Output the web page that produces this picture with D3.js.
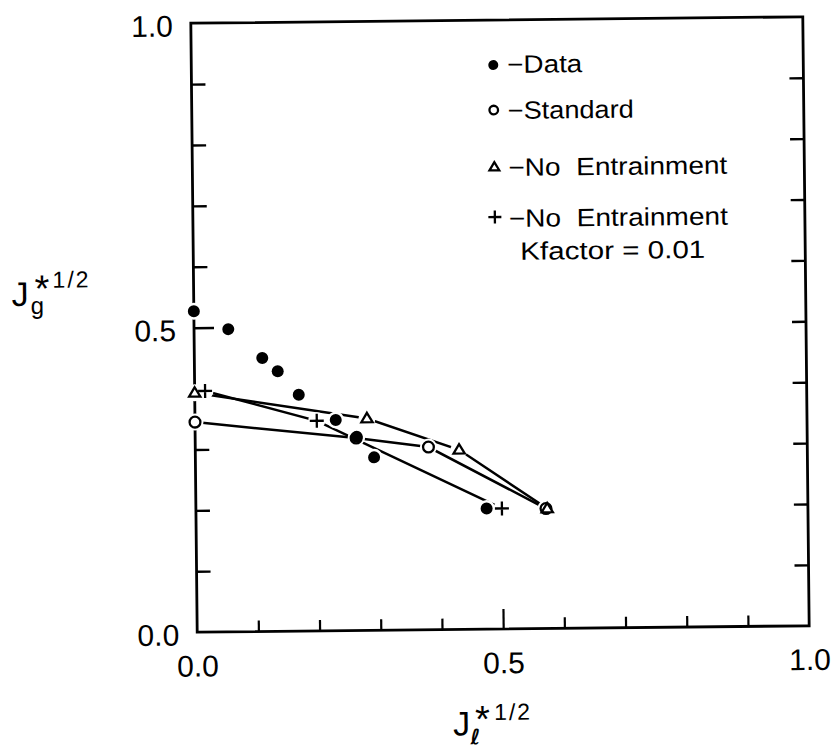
<!DOCTYPE html>
<html>
<head>
<meta charset="utf-8">
<script src="https://cdn.jsdelivr.net/npm/d3@7"></script>
<style>
  html, body { margin: 0; padding: 0; background: #fff; }
  svg { display: block; }
  text { font-family: "Liberation Sans", Arial, sans-serif; fill: #000; }
</style>
</head>
<body>
<svg id="chart" width="837" height="749"></svg>
<script>
// ---- data ----
const dataX = [0.0, 0.056, 0.111, 0.136, 0.170, 0.230, 0.264, 0.292, 0.475];
const dataY = [0.527, 0.497, 0.449, 0.427, 0.388, 0.346, 0.318, 0.284, 0.198];

const standardX = [0.0, 0.263, 0.381, 0.572];
const standardY = [0.345, 0.316, 0.300, 0.197];

const noEntX = [0.0, 0.281, 0.431, 0.574];
const noEntY = [0.393, 0.348, 0.295, 0.197];

const kfactorX = [0.017, 0.199, 0.500];
const kfactorY = [0.396, 0.345, 0.198];

const tickValues = [0, 0.1, 0.2, 0.3, 0.4, 0.5, 0.6, 0.7, 0.8, 0.9, 1.0];
const tickLabels = {"0": "0.0", "0.5": "0.5", "1": "1.0"};

const legendLabels = ["\u2212Data", "\u2212Standard", "\u2212No\u00a0\u00a0Entrainment", "\u2212No\u00a0\u00a0Entrainment"];
const legendExtra = "Kfactor = 0.01";

// ---- layout ----
const L = 194, R = 806, T = 20, B = 629;
const svg = d3.select("#chart");
const g = svg.append("g").attr("transform", "rotate(-0.6, 500, 325)");

const x = d3.scaleLinear().domain([0, 1]).range([L, R]);
const y = d3.scaleLinear().domain([0, 1]).range([B, T]);

const inner = tickValues.filter(v => v > 0 && v < 1);

// left axis (inward ticks)
const leftAxis = d3.axisLeft(y).tickValues(tickValues).tickSize(-14).tickPadding(18)
  .tickFormat(d => tickLabels[String(+d.toFixed(1))] || "");
const gl = g.append("g").attr("transform", `translate(${L},0)`).call(leftAxis);
gl.select(".domain").remove();
gl.selectAll(".tick line").attr("stroke", "#000").attr("stroke-width", 2.4)
  .attr("x2", d => Math.abs(d - 0.5) < 1e-6 ? 20 : 14)
  .attr("display", d => (d <= 0 || d >= 1) ? "none" : null);
gl.selectAll(".tick text").attr("font-size", 30).attr("font-family", "Liberation Sans, Arial, sans-serif")
  .attr("dy", "0.42em");

// right axis (inward ticks, no labels)
const rightAxis = d3.axisRight(y).tickValues(inner).tickSize(-14).tickFormat("");
const gr = g.append("g").attr("transform", `translate(${R},0)`).call(rightAxis);
gr.select(".domain").remove();
gr.selectAll(".tick line").attr("stroke", "#000").attr("stroke-width", 2.4);

// bottom axis (inward ticks)
const bottomAxis = d3.axisBottom(x).tickValues(tickValues).tickSize(-12).tickPadding(23)
  .tickFormat(d => tickLabels[String(+d.toFixed(1))] || "");
const gb = g.append("g").attr("transform", `translate(0,${B})`).call(bottomAxis);
gb.select(".domain").remove();
gb.selectAll(".tick line").attr("stroke", "#000").attr("stroke-width", 2.2)
  .attr("y2", d => Math.abs(d - 0.5) < 1e-6 ? -20 : -11)
  .attr("display", d => (d <= 0 || d >= 1) ? "none" : null);
gb.selectAll(".tick text").attr("font-size", 30).attr("font-family", "Liberation Sans, Arial, sans-serif");

// frame
g.append("rect").attr("x", L).attr("y", T).attr("width", R - L).attr("height", B - T)
  .attr("fill", "none").attr("stroke", "#000").attr("stroke-width", 2.8);

// ---- series ----
const zip = (xs, ys) => xs.map((v, i) => [v, ys[i]]);
const dataPts = zip(dataX, dataY);
const stdPts = zip(standardX, standardY);
const nePts = zip(noEntX, noEntY);
const kfPts = zip(kfactorX, kfactorY);

const line = d3.line().x(d => x(d[0])).y(d => y(d[1]));
[stdPts, nePts, kfPts].forEach(pts => {
  g.append("path").attr("d", line(pts)).attr("fill", "none")
    .attr("stroke", "#000").attr("stroke-width", 2.5);
});

// white halos (gaps in lines around markers)
const allPts = [...stdPts, ...nePts, ...kfPts, ...dataPts];
g.append("g").selectAll("circle").data(allPts).join("circle")
  .attr("cx", d => x(d[0])).attr("cy", d => y(d[1])).attr("r", 8.5).attr("fill", "#fff");

const triPath = (cx, cy, s) => `M${cx},${cy - s * 0.75} L${cx + s * 0.75},${cy + s * 0.5} L${cx - s * 0.75},${cy + s * 0.5} Z`;
const plusPath = (cx, cy, s) => `M${cx - s},${cy} H${cx + s} M${cx},${cy - s} V${cy + s}`;

function drawCircle(sel, cx, cy, r) {
  sel.append("circle").attr("cx", cx).attr("cy", cy).attr("r", r)
    .attr("fill", "#fff").attr("stroke", "#000").attr("stroke-width", 2.3);
}
function drawTri(sel, cx, cy, s) {
  sel.append("path").attr("d", triPath(cx, cy, s)).attr("fill", "#fff")
    .attr("stroke", "#000").attr("stroke-width", 2.3).attr("stroke-linejoin", "miter");
}
function drawPlus(sel, cx, cy, s) {
  sel.append("path").attr("d", plusPath(cx, cy, s)).attr("fill", "none")
    .attr("stroke", "#000").attr("stroke-width", 2.3);
}
function drawDot(sel, cx, cy, r) {
  sel.append("circle").attr("cx", cx).attr("cy", cy).attr("r", r).attr("fill", "#000");
}

const mk = g.append("g");
stdPts.forEach(d => drawCircle(mk, x(d[0]), y(d[1]), 5.4));
nePts.forEach(d => drawTri(mk, x(d[0]), y(d[1]), 7.5));
kfPts.forEach(d => drawPlus(mk, x(d[0]), y(d[1]), 7));
dataPts.forEach(d => drawDot(mk, x(d[0]), y(d[1]), 6));

// ---- legend ----
const lg = g.append("g");
const legMarkX = 496, legTextX = 510;
const legRows = [65, 110, 166, 217];
const legBase = [73, 119, 176, 227];
const legLen = [75, 126, 219, 219];
drawDot(lg, legMarkX, legRows[0], 5);
drawCircle(lg, legMarkX, legRows[1], 4.3);
drawTri(lg, legMarkX, legRows[2] + 1, 6.5);
drawPlus(lg, legMarkX, legRows[3], 6.5);
legendLabels.forEach((t, i) => {
  lg.append("text").attr("x", legTextX).attr("y", legBase[i]).attr("font-size", 25)
    .attr("textLength", legLen[i]).attr("lengthAdjust", "spacingAndGlyphs").text(t);
});
lg.append("text").attr("x", 521).attr("y", 260).attr("font-size", 25)
  .attr("textLength", 185).attr("lengthAdjust", "spacingAndGlyphs").text(legendExtra);

// ---- axis titles (single text elements with tspans) ----
function title(xJ, yJ, sub, subFont, subFamily, subX, subY, starX, starY, fracX, fracY) {
  const t = g.append("text");
  t.append("tspan").attr("x", xJ).attr("y", yJ).attr("font-size", 34).text("J");
  const s = t.append("tspan").attr("x", subX).attr("y", subY).attr("font-size", subFont).text(sub);
  if (subFamily) s.attr("font-family", subFamily).attr("font-style", "italic").attr("font-weight", "bold");
  t.append("tspan").attr("x", starX).attr("y", starY).attr("font-size", 38).text("*");
  t.append("tspan").attr("x", fracX).attr("y", fracY).attr("font-size", 23)
    .attr("letter-spacing", 2).text("1/2");
}
title(12, 301, "g", 24, null, 31, 309, 35, 297, 53, 283);
title(449, 735, "\u2113", 21, "DejaVu Sans, sans-serif", 466, 744, 471, 732, 490, 720);
</script>
</body>
</html>
